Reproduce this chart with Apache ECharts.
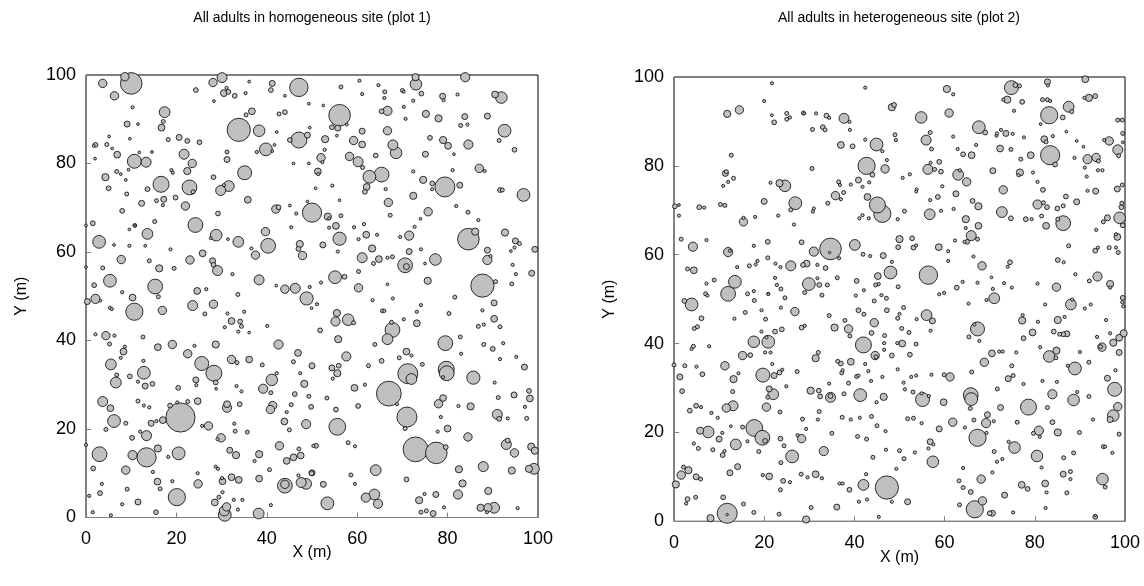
<!DOCTYPE html>
<html>
<head>
<meta charset="utf-8">
<title>Adult tree maps</title>
<script src="https://cdn.jsdelivr.net/npm/echarts@6/dist/echarts.min.js"></script>
<style>
  html, body { margin: 0; padding: 0; background: #fff; }
  #chart { width: 1144px; height: 586px; }
</style>
</head>
<body>
<div id="chart"></div>
<script>
// Stem maps: each tree is [x (m), y (m), dbh]
const titles = ['All adults in homogeneous site (plot 1)', 'All adults in heterogeneous site (plot 2)'];
const tickValues = [0, 20, 40, 60, 80, 100];

const homogeneousTrees = [
[8.6,99.6,21],[10.0,98.1,54],[3.7,98.1,21],[6.3,95.3,21],[28.1,98.3,21],[30.1,99.4,25],[24.3,96.6,12],[30.5,95.9,17],[31.5,96.2,12],[31.1,97.1,8],[32.9,95.3,12],[35.3,95.9,8],[36.1,98.5,7],[41.2,98.1,15],[40.9,96.6,12],[47.1,97.2,46],[44.0,95.3,7],[49.3,93.5,7],[28.3,94.1,7],[10.3,92.7,8],[17.4,91.6,27],[17.1,89.5,10],[16.7,88.1,17],[9.1,88.9,15],[11.5,88.9,7],[33.8,87.6,58],[38.3,87.4,29],[35.4,91.0,10],[36.7,91.8,17],[42.7,91.2,10],[44.0,91.6,12],[42.2,87.1,7],[49.5,88.1,7],[47.1,85.3,40],[49.0,86.4,15],[45.1,85.3,12],[39.8,83.2,32],[37.8,82.6,8],[41.7,84.2,7],[41.2,82.8,7],[5.1,86.1,7],[9.7,85.6,7],[2.1,84.2,12],[1.7,84.0,7],[4.6,84.3,10],[5.8,83.4,7],[6.9,82.0,17],[2.0,81.1,7],[18.2,85.4,10],[20.6,85.9,15],[22.4,85.1,12],[25.1,84.8,12],[10.7,80.5,35],[13.3,80.3,25],[11.8,82.5,7],[14.6,82.6,7],[21.7,82.1,25],[23.5,80.0,21],[22.4,78.3,18],[31.2,82.6,10],[31.2,80.9,15],[35.1,77.9,35],[45.9,80.0,7],[49.3,80.0,7],[4.3,76.9,18],[5.0,74.4,12],[6.8,78.2,10],[7.7,77.6,7],[8.8,76.3,7],[9.4,78.6,7],[16.6,75.3,40],[18.9,78.5,8],[19.2,77.9,8],[22.9,74.6,37],[23.7,73.6,10],[28.2,76.9,12],[29.8,73.9,25],[31.6,74.9,27],[30.5,75.1,8],[9.0,73.1,10],[13.6,74.2,12],[12.3,71.0,15],[15.6,71.6,10],[17.2,71.9,15],[17.0,70.6,8],[19.8,72.3,12],[22.0,70.4,21],[35.8,71.8,17],[42.0,69.7,21],[42.6,70.1,12],[45.1,70.5,7],[46.5,68.7,8],[49.0,71.4,7],[50.0,68.9,48],[8.0,69.3,12],[29.2,68.7,12],[0,66.0,7],[1.5,66.5,12],[10.8,66.0,10],[10.8,66.0,5],[9.6,65.1,7],[15.2,66.9,10],[24.2,66.1,37],[13.6,64.1,27],[2.9,62.3,32],[6.2,61.6,7],[9.6,61.4,8],[13.1,61.4,7],[28.8,63.8,29],[27.6,63.1,7],[31.4,62.9,7],[33.7,62.3,27],[39.7,64.6,21],[40.3,61.4,37],[45.4,65.6,8],[47.3,61.8,18],[47.0,60.7,12],[47.9,59.2,21],[36.6,60.8,8],[37.5,59.3,21],[18.7,60.6,8],[7.8,58.3,21],[14.0,58.0,10],[16.2,56.3,18],[19.5,56.3,10],[23.0,58.2,21],[25.8,59.7,17],[28.0,58.0,15],[28.2,57.1,12],[29.1,55.8,25],[0,56.6,7],[3.7,56.4,10],[5.3,53.5,32],[1.8,52.5,12],[15.3,52.2,37],[32.4,55.0,8],[38.3,53.7,25],[44.0,51.6,21],[46.3,51.8,25],[42.1,52.4,7],[49.5,52.1,8],[24.6,51.2,17],[26.6,51.6,8],[8.0,50.9,8],
[0.3,48.8,15],[2.1,49.4,23],[3.2,49.0,7],[5.3,47.4,8],[5.7,47.1,8],[10.3,49.7,17],[10.7,46.5,43],[16.0,49.9,10],[16.9,46.8,21],[23.6,47.9,25],[26.3,46.0,10],[28.2,48.2,21],[33.6,50.4,10],[31.3,46.1,8],[32.2,44.4,17],[34.1,44.3,12],[34.4,43.2,10],[33.7,42.0,8],[35.0,46.5,8],[30.7,43.0,8],[36.1,41.8,7],[40.1,43.3,8],[48.8,49.5,33],[49.9,47.3,7],[2.1,41.4,8],[4.4,41.1,21],[6.3,41.1,8],[5.2,39.2,10],[12.6,40.8,10],[8.6,38.6,8],[8.3,37.5,17],[7.7,36.1,8],[5.5,34.6,27],[12.7,35.4,8],[12.8,32.7,32],[6.8,32.2,10],[6.6,30.5,27],[9.7,31.9,12],[11.5,30.7,8],[13.1,29.7,15],[14.7,30.2,12],[15.9,38.5,17],[19.1,39.1,21],[24.0,38.8,8],[28.7,39.1,18],[22.5,37.0,21],[25.6,34.8,35],[28.3,32.6,40],[28.7,30.5,12],[28.8,29.1,7],[24.3,31.1,15],[24.4,29.9,8],[20.4,29.3,12],[32.2,35.7,21],[33.4,35.0,10],[36.1,35.7,17],[39.0,34.5,10],[42.6,39.1,23],[46.9,37.2,17],[45.9,35.2,10],[50.0,34.3,15],[42.2,32.6,8],[41.1,31.1,29],[39.2,29.1,23],[40.9,28.2,10],[33.3,29.7,8],[34.4,28.5,8],[47.4,32.6,8],[48.3,30.2,18],[49.3,27.4,10],[46.2,27.9,12],[3.7,26.2,25],[5.4,24.7,17],[6.2,21.8,32],[8.8,21.3,10],[4.4,19.9,10],[11.5,26.3,10],[12.8,25.3,8],[14.0,24.9,8],[14.4,21.3,15],[15.6,21.8,8],[17.0,22.0,17],[18.6,25.3,12],[20.2,26.0,8],[22.5,26.2,10],[24.7,26.3,17],[20.9,22.6,73],[31.2,25.6,17],[31.2,24.8,23],[34.0,25.6,12],[41.3,25.3,21],[40.8,24.4,21],[45.4,25.5,10],[44.4,23.8,8],[43.9,21.7,17],[45.0,19.8,10],[48.7,21.1,23],[49.8,25.0,12],[25.7,20.7,8],[27.1,20.7,21],[32.8,21.2,8],[33.0,19.5,10],[35.7,19.3,10],[29.9,18.0,21],[29.1,17.7,8],[12.0,19.4,8],[13.4,18.5,25],[10.2,18.0,12],[0,16.4,8],[3.0,14.3,37],[1.6,11.1,12],[10.3,14.1,23],[13.4,13.6,48],[15.9,15.6,18],[18.2,13.7,8],[20.5,14.5,32],[8.8,10.7,21],[14.8,10.3,8],[3.5,7.6,8],[3.1,5.5,12],[0.7,4.9,8],[9.1,6.4,10],[11.5,3.5,15],[8.0,3.0,8],[15.8,8.1,17],[16.4,6.5,10],[19.1,8.2,8],[20.1,4.6,43],[15.5,1.2,12],[1.5,1.2,8],[5.5,0.5,8],[24.8,7.6,21],[24.7,10.0,8],[28.7,11.5,8],[29.2,11.0,8],[30.1,8.9,8],[30.2,8.2,17],[31.8,15.2,15],[33.2,14.1,18],[33.8,8.5,17],[32.2,9.1,17],[30.2,5.7,8],[29.4,4.6,10],[28.5,3.4,17],[31.1,2.4,21],[30.6,1.5,25],[30.7,0.6,32],[32.7,4.0,8],[34.6,4.0,8],[33.6,1.8,8],[38.2,0.9,27],[38.3,14.3,18],[37.3,12.8,8],[38.3,8.8,17],[40.6,10.8,10],[40.9,2.8,8],[42.8,16.2,21],[44.4,12.8,17],[45.9,13.6,17],[47.1,15.5,10],[47.5,14.0,17],[49.9,10.0,12],[50.3,16.2,8],[44.0,7.2,37],[44.0,7.5,21],[47.0,9.5,8],[47.6,7.9,25],[48.7,7.6,27],
[60.5,98.7,8],[56.4,97.3,10],[64.7,97.7,8],[61.1,95.7,8],[66.1,96.2,10],[66.0,94.8,8],[70.0,96.5,10],[70.3,96.2,7],[72.9,99.5,18],[73.0,97.9,29],[74.2,95.8,12],[72.4,94.2,8],[78.9,95.2,15],[79.1,94.3,8],[82.2,95.6,8],[83.9,99.5,23],[90.5,95.6,17],[91.9,94.9,29],[52.5,93.1,7],[56.1,90.9,54],[54.4,88.2,12],[55.7,88.0,15],[57.7,88.8,7],[55.5,86.3,7],[65.4,91.8,12],[66.7,91.9,23],[70.3,92.8,8],[70.7,90.1,8],[75.2,91.2,18],[78.0,90.2,18],[83.8,90.6,15],[82.9,88.6,10],[84.4,88.8,8],[88.8,90.7,15],[92.6,87.4,32],[91.4,85.2,10],[94.8,83.1,12],[52.9,85.5,18],[59.2,85.2,21],[61.1,87.3,15],[61.1,84.3,17],[66.7,87.4,21],[67.9,84.2,25],[68.6,82.4,29],[64.1,81.8,12],[76.1,85.8,12],[79.0,85.3,18],[80.1,84.0,17],[84.6,84.3,23],[81.4,82.1,7],[75.1,82.1,15],[52.8,83.1,8],[52.0,81.3,21],[52.3,80.3,8],[51.3,78.2,17],[51.4,77.6,8],[58.3,81.6,21],[60.2,80.4,25],[61.2,79.1,10],[62.7,77.0,32],[65.4,77.5,37],[62.1,74.7,17],[61.7,73.6,12],[54.5,75.0,8],[50.8,74.4,7],[56.1,71.7,7],[72.4,78.2,8],[74.6,76.3,18],[76.6,75.5,12],[76.6,74.2,8],[79.4,74.7,50],[82.7,75.1,15],[81.1,78.5,8],[87.0,78.9,21],[88.2,78.3,8],[91.6,74.0,12],[92.1,74.0,10],[96.8,72.9,32],[66.3,74.2,8],[66.9,71.2,21],[67.3,68.3,10],[72.4,72.7,18],[75.7,69.1,21],[74.0,67.5,7],[81.9,70.4,8],[84.5,69.0,10],[86.8,67.2,8],[53.5,68.0,18],[53.8,67.6,8],[56.4,68.2,10],[55.3,65.9,17],[53.8,65.5,8],[56.1,63.0,33],[52.4,61.6,15],[55.7,60.1,8],[59.3,65.6,8],[60.3,62.9,8],[61.5,66.3,8],[62.0,63.9,17],[64.4,63.9,8],[63.3,60.8,18],[61.1,58.7,25],[63.6,57.4,10],[64.8,58.4,17],[66.7,58.7,8],[67.8,58.9,10],[69.5,63.4,8],[71.5,63.7,23],[72.7,65.7,8],[71.5,60.1,15],[70.6,57.0,37],[70.9,56.7,15],[74.1,60.6,8],[75.0,57.4,7],[77.3,58.3,29],[84.6,62.9,54],[86.1,64.6,18],[88.8,60.4,15],[88.8,58.2,23],[89.5,59.1,8],[92.7,64.4,18],[95.0,62.5,15],[95.9,61.9,10],[94.8,61.0,8],[94.0,60.2,7],[99.3,60.6,15],[94.4,57.1,8],[95.1,55.0,8],[98.6,55.2,15],[94.2,52.8,10],[60.3,55.6,10],[60.3,51.9,21],[66.7,52.7,7],[75.6,53.5,18],[52.0,53.1,8],[55.1,54.3,32],[57.2,54.4,12],[87.7,52.4,58],[90.6,53.3,10],
[51.1,48.2,8],[63.4,49.1,8],[67.9,49.5,8],[65.6,46.7,10],[66.0,46.7,8],[55.5,46.2,18],[55.2,44.3,23],[58.0,44.7,29],[59.2,44.0,10],[51.8,42.3,12],[55.8,40.3,18],[57.6,36.4,23],[67.8,42.4,37],[66.7,40.3,27],[67.6,44.1,10],[70.3,44.8,8],[73.2,43.9,17],[73.2,46.5,8],[74.1,48.0,8],[63.9,39.1,10],[81.6,49.8,10],[80.3,46.1,10],[90.3,48.5,15],[87.7,46.8,8],[90.3,44.9,17],[86.8,43.2,10],[88.0,43.6,8],[91.6,43.1,10],[79.5,39.4,37],[82.8,40.8,10],[83.0,37.0,8],[88.0,39.1,10],[90.0,38.1,12],[92.3,39.4,8],[91.6,35.8,8],[95.2,36.3,8],[97.0,34.0,15],[54.4,33.8,15],[55.6,32.6,18],[55.9,34.3,12],[54.6,31.4,8],[62.5,34.3,10],[65.4,35.4,12],[69.3,36.1,10],[70.9,37.5,17],[72.0,36.6,8],[74.4,34.6,10],[71.2,32.5,50],[72.0,31.3,27],[79.7,33.5,40],[79.8,32.6,37],[79.0,31.7,8],[85.7,31.6,33],[90.4,30.5,8],[91.2,27.1,10],[94.7,27.7,15],[97.1,25.0,8],[98.0,28.6,12],[98.2,26.9,17],[61.7,30.0,8],[59.4,29.3,17],[60.2,25.2,12],[67.0,28.0,62],[68.8,25.6,8],[53.3,27.0,10],[55.3,24.4,12],[55.6,20.5,42],[71.0,22.7,50],[70.6,20.1,10],[78.0,25.7,21],[79.0,27.0,17],[82.4,25.2,8],[85.1,25.1,18],[78.5,22.7,8],[77.8,19.4,8],[80.0,20.1,17],[91.0,23.3,25],[91.4,22.3,12],[93.3,22.4,8],[97.5,22.4,10],[50.9,16.2,12],[58.0,16.9,10],[59.5,16.1,8],[72.9,15.4,62],[77.5,14.6,54],[79.6,15.9,12],[84.5,18.2,21],[93.0,16.5,25],[93.3,17.4,12],[94.8,14.6,21],[98.5,16.0,18],[99.3,15.1,18],[50.0,10.1,15],[52.5,7.5,15],[64.1,10.7,27],[58.6,9.6,10],[59.5,7.6,8],[70.9,8.6,12],[82.5,10.9,18],[87.9,11.5,25],[83.3,7.7,18],[82.3,5.2,23],[89.0,6.0,18],[94.2,10.6,18],[98.0,11.0,18],[99.1,11.0,27],[53.4,3.2,32],[61.9,4.5,23],[63.8,5.2,27],[64.6,3.1,23],[73.7,3.9,18],[74.9,5.3,8],[77.4,5.2,15],[74.1,1.2,10],[75.3,1.5,10],[76.8,0.9,15],[79.2,2.3,8],[87.3,2.2,18],[88.9,2.2,21],[90.3,2.2,27],[88.7,1.2,8],[95.5,2.1,8]
];

const heterogeneousTrees = [
[21.7,98.6,8],[42.4,97.6,8],[20.0,94.6,8],[11.8,91.7,18],[14.5,92.6,21],[21.7,91.4,7],[22.2,89.8,12],[25.0,91.8,10],[25.0,90.5,10],[25.7,90.9,8],[28.7,91.9,10],[28.9,91.8,7],[31.5,91.8,8],[33.8,91.3,12],[34.4,90.8,8],[37.7,90.7,25],[38.9,89.9,8],[30.7,88.2,10],[33.0,88.7,12],[33.5,88.1,10],[39.0,88.1,8],[37.0,84.7,17],[39.6,84.4,12],[42.4,85.9,8],[44.9,84.8,32],[46.2,83.3,8],[48.3,93.2,18],[48.8,93.7,12],[49.0,87.0,10],[49.2,85.8,8],[12.7,82.4,10],[30.6,79.4,10],[42.7,80.0,43],[46.8,79.3,21],[44.0,78.0,12],[47.2,81.3,8],[11.4,78.3,15],[11.6,78.7,10],[13.2,77.2,10],[12.0,76.4,8],[10.9,75.5,8],[21.4,76.2,8],[23.4,76.1,18],[24.6,75.5,29],[36.5,76.4,10],[36.8,75.7,8],[35.8,73.3,21],[37.6,74.0,10],[37.0,72.5,8],[39.2,75.8,8],[40.9,76.8,15],[41.8,75.3,8],[43.3,76.3,8],[42.9,73.0,17],[45.1,71.2,40],[46.2,69.2,43],[0.2,70.9,12],[1.1,71.2,7],[1.1,68.8,8],[5.6,70.7,12],[6.7,70.6,8],[10.3,71.3,10],[11.3,71.1,10],[20.0,72.0,15],[26.9,71.6,32],[25.9,70.1,10],[31.0,70.4,8],[30.8,69.7,8],[34.1,71.6,10],[15.4,67.4,21],[15.4,68.3,8],[18.0,68.5,8],[23.1,68.8,8],[26.6,66.8,8],[41.1,68.2,8],[41.8,68.9,8],[43.2,68.2,8],[49.6,68.0,8],[1.6,63.5,10],[4.2,61.8,23],[7.2,63.3,8],[12.0,60.6,23],[12.4,60.9,8],[17.7,62.0,8],[20.8,62.9,12],[28.3,62.8,12],[31.0,60.7,23],[34.7,61.3,54],[34.5,60.5,6],[36.6,59.2,8],[40.1,62.2,27],[41.9,60.1,10],[43.5,59.7,8],[46.4,59.8,15],[50.0,63.5,18],[49.7,61.7,12],[49.7,52.8,10],[3.0,56.8,10],[4.4,56.5,17],[14.0,57.2,8],[16.7,57.5,10],[18.1,57.8,8],[18.5,58.6,8],[20.8,59.3,10],[22.5,58.0,8],[23.6,57.2,8],[25.9,57.5,25],[28.6,57.7,12],[29.4,58.0,17],[31.8,57.7,8],[33.6,57.0,12],[45.2,55.2,17],[48.0,56.0,32],[48.3,58.4,8],[7.2,53.5,8],[8.9,54.3,10],[13.5,53.9,32],[12.0,51.2,37],[22.4,54.8,8],[22.8,53.2,8],[23.7,52.3,10],[29.9,53.4,32],[31.8,54.7,8],[32.2,53.2,12],[34.0,53.2,10],[36.2,54.8,10],[40.5,54.1,12],[42.1,52.0,8],[44.7,53.2,10],[45.4,53.4,8],[46.0,50.9,8],[17.7,51.8,8],[20.9,51.1,7],[29.0,51.5,10],
[60.5,97.3,18],[61.9,96.1,8],[54.8,90.9,29],[61.0,91.9,21],[74.8,97.6,35],[75.7,98.2,12],[76.6,98.0,10],[73.9,94.9,18],[73.0,94.9,8],[77.2,94.4,12],[75.4,92.4,8],[82.8,98.9,15],[82.9,98.1,8],[91.2,99.5,17],[81.7,94.9,10],[82.8,94.9,10],[83.4,94.6,8],[83.2,91.4,43],[81.3,89.4,7],[87.5,93.3,27],[88.2,92.2,10],[86.2,90.9,12],[91.0,95.3,8],[92.0,95.3,18],[93.4,95.7,12],[98.4,90.3,10],[99.4,90.3,10],[99.5,87.3,10],[55.9,85.8,25],[56.8,87.5,10],[57.1,83.8,10],[61.9,86.6,8],[62.9,83.8,8],[64.1,82.6,12],[66.0,82.4,17],[67.0,84.7,8],[67.6,88.7,32],[69.0,87.5,12],[71.5,86.8,8],[71.6,87.3,8],[72.5,88.1,8],[73.6,87.3,15],[75.1,87.2,8],[77.6,86.4,8],[72.3,83.9,17],[74.7,83.7,10],[76.9,81.5,10],[79.1,82.4,17],[82.1,86.0,17],[82.5,85.4,10],[83.4,82.4,48],[84.5,80.3,12],[84.0,86.7,8],[87.0,87.7,7],[89.3,85.6,7],[88.8,81.8,8],[90.8,84.3,7],[91.7,81.5,23],[93.6,81.9,21],[94.1,81.1,10],[91.1,79.6,8],[96.5,85.6,21],[95.4,85.8,8],[98.4,83.6,25],[98.6,82.3,10],[99.5,85.3,7],[94.0,79.0,8],[95.0,79.0,8],[91.5,77.6,8],[50.7,77.3,8],[52.3,78.1,8],[56.3,79.2,25],[56.9,80.7,8],[57.8,79.2,10],[58.8,80.9,12],[59.2,78.7,12],[63.0,78.0,27],[64.9,76.4,21],[63.4,79.0,8],[70.7,78.9,15],[76.7,78.5,18],[76.4,77.9,8],[79.6,78.5,8],[59.5,75.4,8],[53.8,74.7,8],[53.7,74.2,7],[62.5,73.7,15],[58.5,73.0,12],[56.8,72.3,8],[73.0,74.6,21],[80.6,76.4,8],[81.8,74.6,12],[86.9,73.1,12],[89.3,71.9,15],[91.7,74.4,8],[93.5,74.3,15],[98.3,74.8,15],[99.4,75.7,10],[66.2,72.1,12],[67.5,70.9,18],[80.6,71.3,23],[81.9,71.7,10],[82.7,70.7,12],[85.0,70.4,12],[86.3,71.0,10],[99.3,71.6,10],[99.2,70.7,12],[51.1,69.8,10],[56.7,69.1,27],[59.2,69.9,8],[62.0,70.3,8],[64.7,68.0,18],[67.5,66.5,17],[64.7,66.0,8],[65.9,64.3,25],[67.3,63.5,10],[65.0,62.9,12],[64.4,62.9,8],[72.7,69.6,27],[74.7,68.2,12],[78.0,68.0,12],[79.3,68.0,8],[81.5,68.7,10],[82.5,66.5,17],[86.3,67.1,37],[85.1,68.0,10],[87.5,62.0,10],[85.1,58.8,12],[86.4,58.3,8],[95.2,67.4,10],[96.1,68.3,15],[98.8,68.3,29],[99.5,66.6,12],[98.3,64.0,17],[98.0,64.6,8],[93.6,65.6,8],[93.4,60.9,12],[94.0,61.6,8],[96.5,61.6,10],[98.0,61.6,8],[98.5,60.5,10],[52.8,63.7,12],[53.1,61.6,12],[53.7,62.1,8],[58.7,61.7,17],[60.8,60.8,8],[62.3,63.2,8],[60.8,58.6,8],[66.4,59.6,8],[68.3,57.5,21],[74.0,57.3,8],[74.5,58.3,12],[56.4,55.4,46],[62.7,52.6,12],[64.0,53.9,8],[67.3,53.7,8],[70.4,54.9,7],[73.2,53.6,8],[74.9,52.6,8],[70.7,52.3,8],[80.6,53.5,8],[84.8,52.7,21],[89.0,55.6,8],[92.1,54.1,10],[93.9,55.1,23],[96.7,53.4,18],[96.7,52.6,8],[58.8,51.1,8],[59.9,51.4,8],
[3.9,48.8,32],[2.3,49.6,12],[7.0,51.2,10],[7.4,50.8,8],[16.3,51.2,10],[17.8,49.7,10],[20.9,51.2,8],[24.6,50.3,10],[32.8,50.9,10],[40.3,50.8,8],[44.4,49.6,10],[47.1,50.2,10],[23.7,48.1,8],[26.8,47.2,21],[34.4,46.3,10],[37.9,45.2,10],[40.9,47.5,12],[42.1,46.6,10],[47.2,47.5,12],[49.6,45.7,10],[6.1,45.7,12],[15.8,47.0,10],[19.4,47.5,8],[20.3,45.5,10],[13.4,45.6,8],[4.5,43.4,10],[5.2,43.8,10],[19.4,42.7,8],[22.4,42.7,12],[23.9,43.2,12],[28.3,43.6,12],[29.0,44.0,8],[35.6,43.6,18],[38.7,43.3,21],[39.0,41.7,10],[44.4,44.7,21],[43.8,42.4,12],[46.7,41.8,10],[17.7,40.4,29],[20.9,40.4,32],[20.5,41.4,8],[42.0,39.7,40],[4.3,39.4,10],[3.9,38.8,8],[7.8,39.4,8],[15.2,37.3,21],[16.9,37.4,12],[20.2,38.0,8],[21.4,38.0,8],[31.4,36.7,18],[32.0,38.0,10],[36.3,36.0,10],[37.0,35.5,12],[39.2,35.9,17],[42.4,35.4,8],[44.6,37.3,21],[44.8,37.0,10],[46.6,40.1,8],[46.6,38.6,8],[48.3,37.3,12],[49.5,40.1,8],[0,35.2,10],[2.4,35.0,10],[5.0,34.8,8],[1.3,32.5,15],[6.3,33.1,12],[1.8,29.3,12],[11.3,35.0,21],[13.2,32.0,18],[14.3,33.3,8],[13.0,29.2,10],[19.7,32.9,35],[21.8,35.4,8],[22.2,32.8,15],[23.4,33.5,12],[24.0,34.1,8],[27.3,33.7,10],[24.9,30.4,8],[21.1,29.8,15],[22.0,28.6,27],[20.8,27.9,10],[20.5,25.7,21],[30.3,29.4,18],[32.1,29.4,12],[32.4,28.1,12],[34.7,27.9,25],[34.7,28.2,12],[37.2,33.4,10],[37.4,34.0,8],[38.7,31.1,10],[40.5,32.6,10],[40.9,32.8,8],[43.1,33.8,8],[43.7,31.6,8],[46.2,32.5,8],[34.4,31.0,8],[37.7,28.7,10],[41.3,28.4,32],[44.9,26.8,8],[46.5,28.0,18],[49.6,34.2,8],[3.5,24.9,12],[4.9,26.0,12],[6.0,25.7,8],[8.3,24.4,8],[9.7,23.3,8],[11.6,25.5,21],[13.1,26.0,25],[23.5,24.6,10],[32.2,24.7,10],[31.9,22.9,8],[28.5,23.0,10],[29.3,20.8,8],[37.3,23.4,10],[39.2,22.9,8],[41.2,23.3,8],[43.8,23.6,10],[45.0,21.5,10],[46.9,20.3,8],[5.8,20.4,18],[7.6,20.1,29],[15.2,21.2,10],[12.6,21.4,7],[10.7,19.9,8],[10.0,18.5,15],[17.8,21.0,42],[19.6,18.8,37],[20.2,18.1,12],[16.3,18.0,8],[18.8,15.7,10],[13.7,17.3,27],[8.6,16.1,10],[10.8,14.9,12],[11.2,15.8,8],[4.4,17.5,8],[5.4,16.4,10],[23.6,18.6,12],[24.4,17.0,10],[23.7,13.2,10],[26.2,14.6,32],[28.3,18.6,21],[27.4,19.4,8],[33.2,15.8,23],[35.0,19.8,10],[40.7,19.1,10],[42.7,18.5,10],[44.1,14.4,10],[47.0,16.1,8],[49.3,11.8,8],[2.1,12.2,10],[3.2,11.5,18],[1.6,10.4,21],[4.9,10.0,15],[5.9,9.5,10],[0.4,8.3,18],[14.1,12.3,15],[12.4,10.9,15],[19.7,10.4,8],[21.1,10.1,17],[24.2,9.1,12],[25.7,8.8,8],[23.6,7.1,10],[28.2,10.6,10],[29.6,9.9,8],[31.4,10.6,17],[32.8,9.7,8],[36.7,8.5,8],[37.4,8.5,8],[38.9,7.1,12],[42.0,8.2,27],[42.6,10.6,8],[42.8,4.9,8],[41.0,4.4,8],[47.2,7.6,58],[48.3,4.4,8],[3.0,5.0,12],[2.7,4.0,8],[4.8,5.4,10],[10.9,5.4,12],[11.8,1.8,50],[11.8,1.5,6],[8.1,0.7,18],[15.4,3.9,10],[17.7,2.0,10],[23.3,1.6,10],[30.4,3.1,10],[36.1,3.2,15],[29.3,0.4,18],[45.4,1.0,8],
[71.0,50.2,27],[69.3,49.8,8],[65.3,49.0,8],[82.3,48.8,8],[88.0,48.8,27],[88.3,49.9,8],[91.1,47.9,8],[92.4,48.8,8],[99.5,50.3,12],[99.4,49.3,8],[99.6,48.4,8],[50.9,48.1,10],[50.0,46.7,8],[53.8,45.5,8],[56.0,46.4,27],[57.3,45.1,15],[56.9,42.9,8],[50.5,43.4,10],[52.1,42.5,10],[67.3,43.3,35],[66.6,44.3,8],[65.4,41.5,10],[67.7,40.6,8],[77.2,45.2,18],[77.3,46.4,8],[80.7,44.9,8],[79.5,42.5,17],[77.5,41.2,12],[81.2,39.2,8],[85.1,45.3,18],[86.6,46.0,8],[84.2,42.7,12],[85.5,42.1,10],[86.3,42.1,12],[87.1,42.2,15],[83.2,37.1,29],[84.8,38.4,18],[84.7,36.8,10],[95.8,45.3,8],[93.8,41.5,8],[96.7,42.3,8],[98.7,41.3,17],[99.7,42.3,18],[94.9,39.2,21],[94.6,39.3,10],[97.4,40.2,18],[98.7,38.0,15],[88.9,34.4,32],[87.3,35.0,8],[90.0,38.1,8],[92.0,35.8,10],[50.6,40.0,17],[53.7,39.9,10],[52.3,37.5,12],[50.9,31.2,8],[51.2,29.7,8],[52.6,32.5,8],[53.7,32.8,8],[53.0,29.1,10],[57.1,33.0,8],[55.1,27.4,35],[54.9,28.8,8],[56.5,28.2,8],[59.8,26.8,17],[59.9,33.0,10],[61.2,32.5,21],[66.0,33.6,10],[68.8,35.8,21],[70.5,37.8,17],[72.1,38.2,8],[72.9,38.2,8],[75.9,38.0,8],[74.9,35.0,10],[74.1,32.1,15],[75.2,32.8,10],[77.5,30.9,8],[65.8,28.4,37],[65.9,27.5,32],[65.7,25.4,10],[71.7,29.8,10],[72.4,25.6,15],[78.6,25.7,40],[82.8,25.6,10],[81.7,31.6,8],[84.9,31.4,8],[83.9,28.6,23],[88.6,27.3,29],[89.4,29.1,8],[92.0,28.1,10],[96.1,32.2,15],[97.9,34.0,8],[97.7,29.7,35],[98.4,25.8,21],[97.4,23.8,29],[96.7,22.9,15],[51.8,23.1,10],[53.1,23.2,10],[54.9,22.1,8],[58.8,20.8,15],[61.8,22.3,21],[64.5,21.1,8],[66.5,22.8,10],[69.5,24.0,15],[69.2,22.1,23],[70.9,22.5,8],[69.3,19.9,8],[67.3,18.8,43],[76.1,22.3,10],[79.7,19.8,10],[80.9,20.4,23],[81.1,19.0,8],[83.9,22.3,12],[85.1,20.0,18],[89.9,20.0,10],[92.9,22.9,8],[98.7,19.6,10],[56.8,17.9,15],[57.5,17.3,8],[56.4,16.4,8],[50.0,15.9,10],[51.0,14.1,10],[53.4,15.5,8],[57.4,13.4,29],[74.2,17.9,8],[75.5,16.6,29],[71.0,15.7,10],[71.6,13.4,8],[72.8,14.0,8],[80.5,14.7,29],[81.5,12.1,8],[86.4,14.3,10],[88.6,15.4,10],[95.2,16.8,10],[95.6,16.8,8],[97.2,15.4,8],[51.8,4.4,15],[64.1,12.0,8],[63.2,9.1,10],[64.1,7.6,10],[65.8,6.6,12],[68.1,9.5,21],[70.6,11.0,8],[68.4,4.6,21],[66.7,2.7,43],[63.3,3.7,10],[70.0,1.8,12],[70.6,1.8,15],[75.2,2.0,8],[73.3,5.9,15],[77.1,8.2,17],[78.4,7.3,12],[82.3,8.5,17],[82.6,6.5,8],[82.4,3.0,8],[87.1,6.4,10],[86.3,10.6,15],[87.9,11.2,10],[87.9,9.5,8],[95.0,9.5,29],[95.6,7.7,10],[93.4,1.0,12],[93.4,1.3,6]
];

// Bubble diameter in pixels per unit of dbh
const SIZE_SCALE = 0.4;
const FONT = "'Liberation Sans', Arial, sans-serif";

// Larger stems first so smaller ones stay visible on top
const bySizeDesc = arr => arr.slice().sort((a, b) => b[2] - a[2]);

const grids = [
  { left: 86, top: 75, width: 452, height: 442.5 },
  { left: 674, top: 77, width: 451, height: 444.3 }
];
const titleCentres = [[312, 18], [899, 18]];

const chart = echarts.init(document.getElementById('chart'), null, { renderer: 'canvas' });

function makeAxis(kind, gridIndex) {
  const isX = kind === 'x';
  return {
    type: 'value',
    gridIndex,
    min: tickValues[0],
    max: tickValues[tickValues.length - 1],
    interval: tickValues[1] - tickValues[0],
    name: isX ? 'X (m)' : 'Y (m)',
    nameLocation: 'middle',
    nameGap: isX ? (gridIndex === 0 ? 27 : 28) : 56,
    nameMoveOverlap: false,
    nameTextStyle: { fontSize: 16, color: '#000', fontFamily: FONT },
    axisLine: { show: true, onZero: false, lineStyle: { color: '#808080', width: 1 } },
    axisTick: { show: true, inside: true, length: 5, lineStyle: { color: '#808080', width: 1 } },
    axisLabel: { fontSize: 18, color: '#000', fontFamily: FONT, margin: isX ? 13 : 10 },
    splitLine: { show: false }
  };
}

function makeSeries(trees, idx) {
  return {
    type: 'scatter',
    xAxisIndex: idx,
    yAxisIndex: idx,
    data: bySizeDesc(trees),
    clip: false,
    symbol: 'circle',
    symbolSize: v => v[2] * SIZE_SCALE,
    itemStyle: { color: '#c0c0c0', borderColor: '#000', borderWidth: 0.8, opacity: 1 },
    emphasis: { disabled: true },
    animation: false
  };
}

chart.setOption({
  backgroundColor: '#fff',
  animation: false,
  grid: grids.map(g => Object.assign({ show: true, borderColor: '#000', borderWidth: 1, backgroundColor: 'transparent', containLabel: false }, g)),
  xAxis: [makeAxis('x', 0), makeAxis('x', 1)],
  yAxis: [makeAxis('y', 0), makeAxis('y', 1)],
  series: [makeSeries(homogeneousTrees, 0), makeSeries(heterogeneousTrees, 1)],
  graphic: titles.map((t, i) => ({
    type: 'text',
    x: titleCentres[i][0],
    y: titleCentres[i][1],
    style: { text: t, fontSize: 14, fontFamily: FONT, fill: '#000', align: 'center', verticalAlign: 'middle' }
  }))
});
</script>
</body>
</html>
